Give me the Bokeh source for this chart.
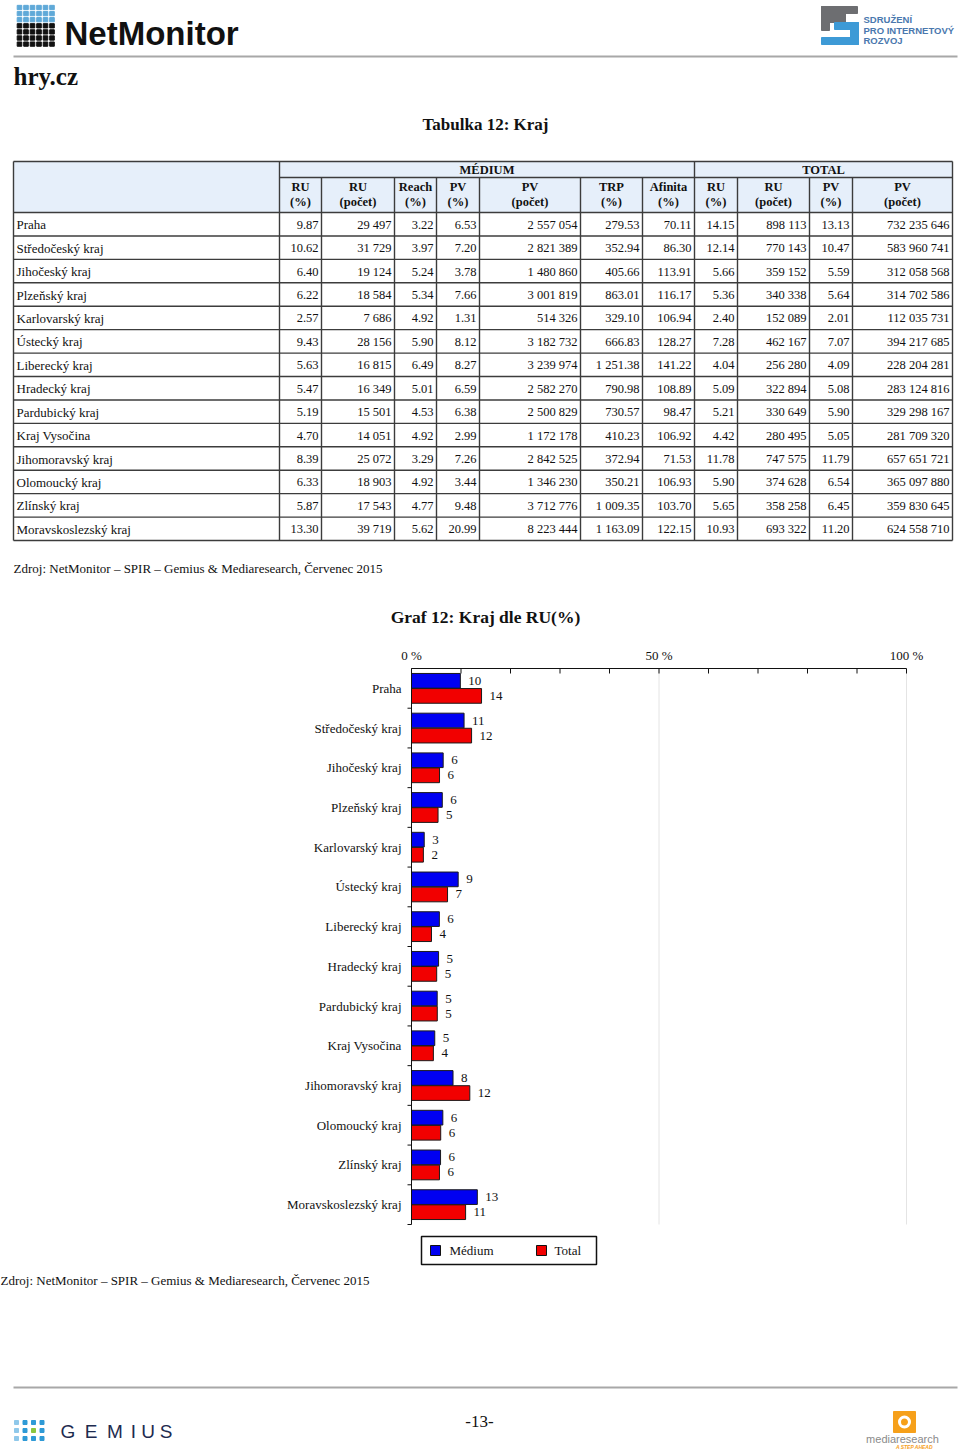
from bokeh.plotting import figure
from bokeh.models import Range1d
from bokeh.core.properties import value
from bokeh.embed import file_html
from bokeh.resources import INLINE

# ---------------- data ----------------
regions = ["Praha", "Středočeský kraj", "Jihočeský kraj", "Plzeňský kraj", "Karlovarský kraj",
           "Ústecký kraj", "Liberecký kraj", "Hradecký kraj", "Pardubický kraj", "Kraj Vysočina",
           "Jihomoravský kraj", "Olomoucký kraj", "Zlínský kraj", "Moravskoslezský kraj"]
medium_ru_pct = [9.87, 10.62, 6.40, 6.22, 2.57, 9.43, 5.63, 5.47, 5.19, 4.70, 8.39, 6.33, 5.87, 13.30]
medium_ru_count = [29497, 31729, 19124, 18584, 7686, 28156, 16815, 16349, 15501, 14051, 25072, 18903, 17543, 39719]
medium_reach = [3.22, 3.97, 5.24, 5.34, 4.92, 5.90, 6.49, 5.01, 4.53, 4.92, 3.29, 4.92, 4.77, 5.62]
medium_pv_pct = [6.53, 7.20, 3.78, 7.66, 1.31, 8.12, 8.27, 6.59, 6.38, 2.99, 7.26, 3.44, 9.48, 20.99]
medium_pv_count = [2557054, 2821389, 1480860, 3001819, 514326, 3182732, 3239974, 2582270, 2500829,
                   1172178, 2842525, 1346230, 3712776, 8223444]
medium_trp = [279.53, 352.94, 405.66, 863.01, 329.10, 666.83, 1251.38, 790.98, 730.57, 410.23,
              372.94, 350.21, 1009.35, 1163.09]
medium_afinita = [70.11, 86.30, 113.91, 116.17, 106.94, 128.27, 141.22, 108.89, 98.47, 106.92,
                  71.53, 106.93, 103.70, 122.15]
total_ru_pct = [14.15, 12.14, 5.66, 5.36, 2.40, 7.28, 4.04, 5.09, 5.21, 4.42, 11.78, 5.90, 5.65, 10.93]
total_ru_count = [898113, 770143, 359152, 340338, 152089, 462167, 256280, 322894, 330649, 280495,
                  747575, 374628, 358258, 693322]
total_pv_pct = [13.13, 10.47, 5.59, 5.64, 2.01, 7.07, 4.09, 5.08, 5.90, 5.05, 11.79, 6.54, 6.45, 11.20]
total_pv_count = [732235646, 583960741, 312058568, 314702586, 112035731, 394217685, 228204281,
                  283124816, 329298167, 281709320, 657651721, 365097880, 359830645, 624558710]

group_headers = ["MÉDIUM", "TOTAL"]
column_headers = [("RU", "(%)"), ("RU", "(počet)"), ("Reach", "(%)"), ("PV", "(%)"), ("PV", "(počet)"),
                  ("TRP", "(%)"), ("Afinita", "(%)"), ("RU", "(%)"), ("RU", "(počet)"), ("PV", "(%)"),
                  ("PV", "(počet)")]
x_tick_values = [0, 50, 100]
x_tick_labels = ["0 %", "50 %", "100 %"]
minor_tick_step = 10
series_names = ["Médium", "Total"]
series_colors = ["#0000f2", "#f20000"]
source_text = "Zdroj: NetMonitor – SPIR – Gemius & Mediaresearch, Červenec 2015"
table_title = "Tabulka 12: Kraj"
chart_title = "Graf 12: Kraj dle RU(%)"

SERIF = value("Liberation Serif")
SANS = value("Liberation Sans")
INK = "#111111"


def fmt_pct(v):
    return f"{v:.2f}"


def fmt_count(v):
    return f"{v:,}".replace(",", " ")


def fmt_dec(v):
    return f"{v:,.2f}".replace(",", " ")


# ---------------- page figure (page pixel coordinates) ----------------
PX0, PX1, PY0, PY1 = 0, 958, 0, 1452
p = figure(width=PX1 - PX0, height=PY1 - PY0, x_range=Range1d(PX0, PX1), y_range=Range1d(PY1, PY0),
           output_backend="svg", toolbar_location=None, min_border=0,
           x_axis_type=None, y_axis_type=None)
p.outline_line_color = None
p.grid.visible = False

# chart area scales (pct on x, category index on y)
C_LEFT, C_RIGHT, C_TOP, C_BOT = 411, 906, 668, 1224
n = len(regions)
px_per_pct = (C_RIGHT - C_LEFT) / (max(x_tick_values) - min(x_tick_values))
px_per_cat = (C_BOT - C_TOP) / n
p.extra_x_ranges = {"pct": Range1d((PX0 - C_LEFT) / px_per_pct, (PX1 - C_LEFT) / px_per_pct)}
p.extra_y_ranges = {"idx": Range1d((PY1 - C_TOP) / px_per_cat, (PY0 - C_TOP) / px_per_cat)}

# ================= header =================
icon_x, icon_y, icon_c = [], [], []
for r in range(7):
    for c in range(6):
        icon_x.append(19 + c * 6.5)
        icon_y.append(7 + r * 6.1)
        icon_c.append("#5fa9d8" if r < 3 else INK)
p.rect(x=icon_x, y=icon_y, width=4.6, height=4.3, color=icon_c)
p.text(x=[64], y=[33], text=["NetMonitor"], text_font=SANS, text_font_style="bold",
       text_font_size="33px", text_baseline="middle", text_color=INK)

p.quad(left=[821, 821, 829], right=[857, 829, 845], top=[6, 6, 13], bottom=[13, 30, 22], color="#6d6e71")
p.quad(left=[834, 850, 821], right=[858, 858, 858], top=[22, 22, 37], bottom=[29, 44, 44], color="#3d9ad6")
p.text(x=[863, 863, 863], y=[19, 30, 40], text=["SDRUŽENÍ", "PRO INTERNETOVÝ", "ROZVOJ"],
       text_font=SANS, text_font_style="bold", text_font_size="9.5px", text_baseline="middle",
       text_color="#4a78ae")

p.segment(x0=[13], y0=[56], x1=[957], y1=[56], line_color="#a8a8a8", line_width=2)
p.text(x=[13], y=[76], text=["hry.cz"], text_font=SERIF, text_font_style="bold",
       text_font_size="25px", text_baseline="middle", text_color=INK)
p.text(x=[485], y=[124], text=[table_title], text_font=SERIF, text_font_style="bold",
       text_font_size="17px", text_baseline="middle", text_align="center", text_color=INK)

# ================= table =================
col_edges = [13, 279, 321, 394, 436, 479, 580, 642, 694, 737, 809, 852, 952]
t_top, t_mid, t_head = 161, 177, 212
row_h = 23.43
t_bot = t_head + n * row_h

p.quad(left=[13], right=[952], top=[t_top], bottom=[t_head], color="#e6effa")

hx0, hx1, hy = [13, 279, 13], [952, 952, 952], [t_top, t_mid, t_head]
for k in range(1, n + 1):
    hx0.append(13); hx1.append(952); hy.append(t_head + k * row_h)
p.segment(x0=hx0, y0=hy, x1=hx1, y1=hy, line_color="#3c3c3c", line_width=1.4)
vx, vy0 = [], []
for e in col_edges:
    vx.append(e)
    vy0.append(t_top if e in (13, 279, 694, 952) else t_mid)
p.segment(x0=vx, y0=vy0, x1=vx, y1=[t_bot] * len(vx), line_color="#3c3c3c", line_width=1.4)

p.text(x=[(279 + 694) / 2, (694 + 952) / 2], y=[169.5, 169.5], text=group_headers, text_font=SERIF,
       text_font_style="bold", text_font_size="12.5px", text_baseline="middle", text_align="center",
       text_color=INK)
hcx = [(col_edges[i + 1] + col_edges[i + 2]) / 2 for i in range(len(column_headers))]
p.text(x=hcx, y=[186.5] * len(hcx), text=[h[0] for h in column_headers], text_font=SERIF,
       text_font_style="bold", text_font_size="12.5px", text_baseline="middle", text_align="center",
       text_color=INK)
p.text(x=hcx, y=[201.5] * len(hcx), text=[h[1] for h in column_headers], text_font=SERIF,
       text_font_style="bold", text_font_size="12.5px", text_baseline="middle", text_align="center",
       text_color=INK)

row_y = [t_head + (r + 0.5) * row_h + 0.5 for r in range(n)]
p.text(x=[16] * n, y=row_y, text=regions, text_font=SERIF, text_font_size="13px",
       text_baseline="middle", text_color=INK)
columns = [
    [fmt_pct(v) for v in medium_ru_pct],
    [fmt_count(v) for v in medium_ru_count],
    [fmt_pct(v) for v in medium_reach],
    [fmt_pct(v) for v in medium_pv_pct],
    [fmt_count(v) for v in medium_pv_count],
    [fmt_dec(v) for v in medium_trp],
    [fmt_dec(v) for v in medium_afinita],
    [fmt_pct(v) for v in total_ru_pct],
    [fmt_count(v) for v in total_ru_count],
    [fmt_pct(v) for v in total_pv_pct],
    [fmt_count(v) for v in total_pv_count],
]
bx, by, bt = [], [], []
for ci, col in enumerate(columns):
    for r, s in enumerate(col):
        bx.append(col_edges[ci + 2] - 3)
        by.append(row_y[r])
        bt.append(s)
p.text(x=bx, y=by, text=bt, text_font=SERIF, text_font_size="12.5px", text_baseline="middle",
       text_align="right", text_color=INK)

p.text(x=[13], y=[568], text=[source_text], text_font=SERIF, text_font_size="13px",
       text_baseline="middle", text_color=INK)
p.text(x=[485], y=[616], text=[chart_title], text_font=SERIF, text_font_style="bold",
       text_font_size="17.5px", text_baseline="middle", text_align="center", text_color=INK)

# ================= chart =================
idx = list(range(n))
cat_mid = [i + 0.5 for i in idx]
bar_h = 0.37
med_y = [c - 0.19 for c in cat_mid]
tot_y = [c + 0.19 for c in cat_mid]

grid_x = [v for v in x_tick_values if v != 0]
p.segment(x0=grid_x, y0=[0] * len(grid_x), x1=grid_x, y1=[n] * len(grid_x),
          line_color="#e4e4e4", line_width=1, x_range_name="pct", y_range_name="idx")

p.hbar(y=med_y, left=0, right=medium_ru_pct, height=bar_h, fill_color=series_colors[0],
       line_color="#1a1a1a", line_width=1, x_range_name="pct", y_range_name="idx")
p.hbar(y=tot_y, left=0, right=total_ru_pct, height=bar_h, fill_color=series_colors[1],
       line_color="#1a1a1a", line_width=1, x_range_name="pct", y_range_name="idx")
p.text(x=medium_ru_pct, y=med_y, text=[str(round(v)) for v in medium_ru_pct], x_offset=8,
       text_baseline="middle", text_font=SERIF, text_font_size="13px", text_color=INK,
       x_range_name="pct", y_range_name="idx")
p.text(x=total_ru_pct, y=tot_y, text=[str(round(v)) for v in total_ru_pct], x_offset=8,
       text_baseline="middle", text_font=SERIF, text_font_size="13px", text_color=INK,
       x_range_name="pct", y_range_name="idx")

x0, x1 = min(x_tick_values), max(x_tick_values)
p.segment(x0=[x0], y0=[0], x1=[x1], y1=[0], line_color=INK, line_width=1,
          x_range_name="pct", y_range_name="idx")
all_ticks = list(range(x0, x1 + 1, minor_tick_step))
p.segment(x0=all_ticks, y0=[0] * len(all_ticks), x1=all_ticks, y1=[5 / px_per_cat] * len(all_ticks),
          line_color=INK, line_width=1, x_range_name="pct", y_range_name="idx")
p.text(x=x_tick_values, y=[0] * len(x_tick_values), text=x_tick_labels, y_offset=-13,
       text_align="center", text_baseline="middle", text_font=SERIF, text_font_size="13px",
       text_color=INK, x_range_name="pct", y_range_name="idx")

p.segment(x0=[0], y0=[0], x1=[0], y1=[n], line_color=INK, line_width=1,
          x_range_name="pct", y_range_name="idx")
bnd = list(range(1, n + 1))
p.segment(x0=[-4 / px_per_pct] * len(bnd), y0=bnd, x1=[0] * len(bnd), y1=bnd, line_color=INK,
          line_width=1, x_range_name="pct", y_range_name="idx")
p.text(x=[0] * n, y=cat_mid, text=regions, x_offset=-10, text_align="right", text_baseline="middle",
       text_font=SERIF, text_font_size="13px", text_color=INK, x_range_name="pct", y_range_name="idx")

# ================= legend & footer =================
p.quad(left=[421], right=[596], top=[1236], bottom=[1264], fill_color=None, line_color=INK,
       line_width=1.5)
p.quad(left=[430, 536], right=[440, 546], top=[1245, 1245], bottom=[1255, 1255],
       fill_color=series_colors, line_color=INK, line_width=1)
p.text(x=[449, 554], y=[1250, 1250], text=series_names, text_font=SERIF, text_font_size="13px",
       text_baseline="middle", text_color=INK)
p.text(x=[0], y=[1280], text=[source_text], text_font=SERIF, text_font_size="13px",
       text_baseline="middle", text_color=INK)
p.segment(x0=[13], y0=[1387], x1=[957], y1=[1387], line_color="#a8a8a8", line_width=2)

gx, gy, gc = [], [], []
dot_cols = [["#8fc8ea", "#2f9ad6", "#2f9ad6", "#2f9ad6"],
            ["#8fc8ea", "#2f9ad6", "#8cc63f", "#2f9ad6"],
            ["#8fc8ea", "#2f9ad6", "#2f9ad6", "#2f9ad6"]]
for r in range(3):
    for c in range(4):
        gx.append(16 + c * 8.5)
        gy.append(1422 + r * 8)
        gc.append(dot_cols[r][c])
p.rect(x=gx, y=gy, width=4, height=4, color=gc)
p.text(x=[67.5, 90.5, 114.5, 133, 147.5, 165.5], y=[1431] * 6, text=list("GEMIUS"), text_font=SANS,
       text_font_size="19px", text_baseline="middle", text_align="center", text_color="#1d2b4f")

p.text(x=[479], y=[1421], text=["-13-"], text_font=SERIF, text_font_size="17px",
       text_baseline="middle", text_align="center", text_color=INK)

p.quad(left=[893], right=[915], top=[1411], bottom=[1432], color="#f6a01a")
p.circle(x=[904], y=[1421.5], radius=5, fill_color=None, line_color="white", line_width=3)
p.text(x=[902], y=[1438], text=["mediaresearch"], text_font=SANS, text_font_size="11px",
       text_baseline="middle", text_align="center", text_color="#8a8a8a")
p.text(x=[914], y=[1446], text=["A STEP AHEAD"], text_font=SANS, text_font_style="bold italic",
       text_font_size="5px", text_baseline="middle", text_align="center", text_color="#f6a01a")

open("out.html", "w").write(file_html(p, INLINE))
